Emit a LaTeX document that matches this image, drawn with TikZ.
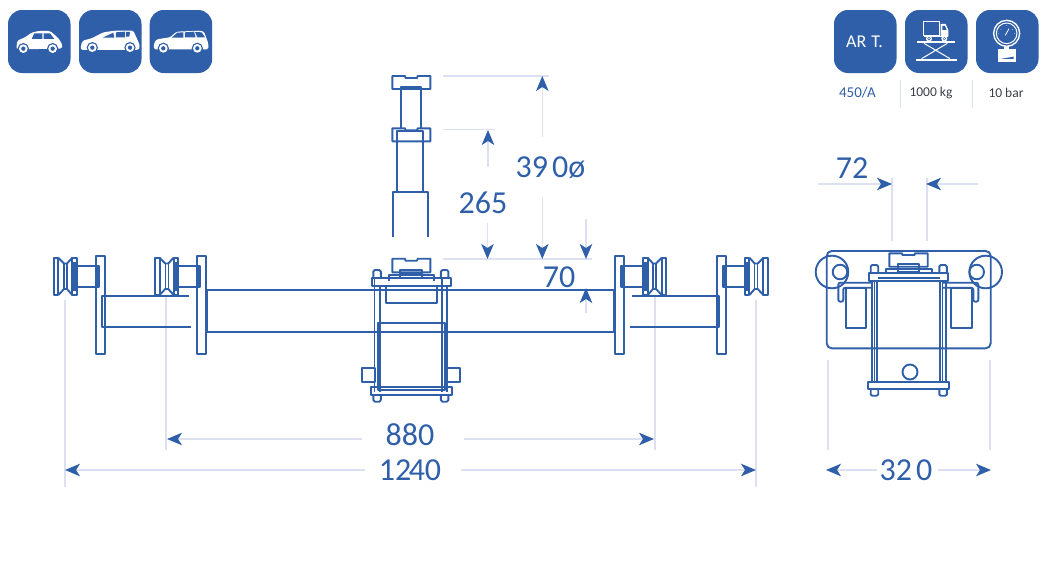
\documentclass[tikz,border=0pt]{standalone}
\usepackage{fontspec}
\setmainfont{Carlito}
\usetikzlibrary{arrows.meta}
\definecolor{steel}{HTML}{2F5FA9}
\definecolor{pale}{HTML}{DDE0F1}
\definecolor{ink}{HTML}{3A3F45}
\tikzset{
	part/.style={draw=steel,line width=1.9pt,line join=round},
	thin part/.style={draw=steel,line width=1.2pt},
	badge/.style={fill=steel,rounded corners=14pt},
	carbody/.style={fill=white,rounded corners=1.5pt},
	pane/.style={fill=steel},
	guide/.style={draw=pale,line width=1.4pt},
	dimarrow/.style={draw=pale,line width=1.4pt,-{Stealth[length=15pt,width=12.5pt,inset=4pt,color=steel]}},
	dimtext/.style={text=steel,font=\fontsize{32}{32}\selectfont,inner sep=0pt},
	smalltext/.style={font=\fontsize{13.5}{14}\selectfont,inner sep=0pt}
}
\begin{document}
\begin{tikzpicture}[x=1pt,y=-1pt]
	\useasboundingbox (0,0) rectangle (1055,562);
	% badges
	\foreach \x in {8,79,149.7,834,905,976}
		\fill[badge] (\x,10) rectangle ++(62.5,63);
	% cars
	\begin{scope}[x=.3333pt,y=-.3333pt]
		\fill[carbody] (50,148) -- (50,135) -- (52,122) -- (75,112) -- (95,98) -- (115,93) -- (150,93) -- (165,105) -- (178,118) -- (187,135) -- (185,146) -- cycle;
		\fill[pane] (103,100) -- (127,100) -- (127,117) -- (95,117) -- cycle (131,100) -- (150,100) -- (163,117) -- (131,117) -- cycle;
		\fill[carbody] (243,150) -- (243,135) -- (248,122) -- (275,115) -- (310,97) -- (345,92) -- (400,92) -- (415,125) -- (420,140) -- (415,150) -- cycle;
		\fill[pane] (308,113) -- (340,98) -- (343,113) -- cycle (348,97) -- (375,95) -- (375,112) -- (348,112) -- cycle (378,96) -- (390,96) -- (388,110) -- (378,110) -- cycle;
		\fill[carbody] (462,148) -- (462,130) -- (470,118) -- (510,112) -- (530,95) -- (600,92) -- (612,95) -- (625,130) -- (625,148) -- cycle;
		\fill[pane] (515,113) -- (532,98) -- (550,97) -- (550,113) -- cycle (555,97) -- (582,95) -- (587,112) -- (555,112) -- cycle (585,96) -- (605,97) -- (615,112) -- (592,112) -- cycle;
		\foreach \x/\y in {70/146,158/146,277/143,390/143,490/145,592/145}{
			\fill[steel] (\x,\y) circle (17);
			\fill[white] (\x,\y) circle (13);
			\fill[steel] (\x,\y) circle (6.5);
		}
	\end{scope}
	% lift badge
	\begin{scope}[shift={(825,0)},x=.3333pt,y=-.3333pt]
		\draw[white,line width=1pt] (295,65) rectangle (343,108);
		\fill[white] (347,72) -- (362,72) -- (370,90) -- (370,110) -- (347,110) -- cycle;
		\fill[steel] (352,78) -- (360,78) -- (365,90) -- (352,90) -- cycle;
		\fill[white] (296,107) rectangle (370,112);
		\foreach \x in {312,358}{
			\fill[white] (\x,116) circle (9);
			\fill[steel] (\x,116) circle (5);
			\fill[white] (\x,116) circle (2.5);
		}
		\fill[white] (275,123) rectangle (390,130);
		\fill[white] (272,176) rectangle (395,184);
		\draw[white,line width=1pt] (297,130) -- (375,176) (367,130) -- (290,176);
		\draw[white,line width=1.4pt] (545,100) circle (39);
		\draw[white,line width=1pt] (545,100) circle (31);
		\draw[white,line width=.8pt] (541,106) -- (552,86);
		\fill[white] (537,139) rectangle (553,147);
		\fill[white] (520,147) rectangle (572,185);
		\fill[steel] (526,177) -- (566,170) -- (566,177) -- cycle;
		\fill[white] (545,100) ++(-35:21) circle (1.2) (545,100) ++(-90:24) circle (1.2) (545,100) ++(-145:21) circle (1.2) (545,100) ++(0:24) circle (1.2) (545,100) ++(180:24) circle (1.2);
	\end{scope}
	\node[text=white,font=\fontsize{18}{18}\selectfont,inner sep=0pt] (art) at (864.5,42) {AR\hspace{1pt} T.};
	\node[smalltext,text=steel,font=\fontsize{15}{15}\selectfont] (model) at (857.5,93) {450/A};
	\node[smalltext,text=ink] (load) at (931,93) {1000 kg};
	\node[smalltext,text=ink] (press) at (1006,93) {10 bar};
	\foreach \x in {900,972.3}
		\draw[guide,line width=1pt] (\x,80) -- (\x,108);
	% guide lines
	\foreach \x/\a/\b in {65/300/487,166/295/450,655/295/450,756/300/487,828/360/450,990/360/450,892/178/241,927/178/241}
		\draw[guide] (\x,\a) -- (\x,\b);
	\foreach \y/\b in {76/549,129.5/495,259/592}
		\draw[guide] (443,\y) -- (\b,\y);
	% roller units
	\foreach \x/\s in {54/1,155.3/1,666/-1,767.7/-1}{
		\begin{scope}[shift={(\x,0)},xscale=\s]
			\draw[part] (42,255.7) rectangle (50.7,354.3);
			\draw[part] (22.7,265.7) rectangle (44.7,286.7);
			\fill[steel] (18.5,262) rectangle (22.7,291);
			\fill[steel] (42.5,265.7) rectangle (44.7,286.7);
			\draw[part] (0,257.7) rectangle (4.3,295);
			\draw[part] (18.3,257.7) rectangle (22.7,295);
			\draw[part] (4.3,257.7) -- (10,263.5) -- (13,263.5) -- (18.3,257.7);
			\draw[part] (4.3,295) -- (10,289) -- (13,289) -- (18.3,295);
			\draw[thin part] (10,263.5) -- (10,289) (13,263.5) -- (13,289);
		\end{scope}
	}
	% arms
	\draw[part] (189,295.7) -- (102,295.7) -- (102,326.7) -- (191,326.7);
	\draw[thin part] (104.3,295.7) -- (104.3,326.7);
	\draw[part] (632,295.7) -- (719.3,295.7) -- (719.3,326.7) -- (630,326.7);
	\draw[thin part] (717.5,295.7) -- (717.5,326.7);
	% main tube
	\draw[part] (207,290) rectangle (614,332);
	% column
	\foreach \y in {76,128.3}
		\draw[part] (392.3,\y) -- (405,\y) -- (405.5,\y+2) -- (417,\y+2) -- (417.7,\y) -- (430.3,\y) -- (430.3,\y+13) -- (392.3,\y+13) -- cycle;
	\draw[part] (401,128.3) -- (401,86.7) -- (421,86.7) -- (421,128.3);
	\draw[thin part] (401,89) -- (421,89);
	\draw[part] (397.3,131) rectangle (423.3,191.7);
	\draw[part] (393,237.3) -- (393,191.7) -- (428.3,191.7) -- (428.3,237.3);
	% front clamp
	\draw[part] (392.3,258.7) -- (405,258.7) -- (405.5,260.7) -- (417,260.7) -- (417.7,258.7) -- (430.3,258.7) -- (430.3,272.3) -- (392.3,272.3) -- cycle;
	\draw[part] (400.3,270) rectangle (422,277.7);
	\draw[thin part] (400.3,273.8) -- (422,273.8);
	\draw[part] (388.7,281.3) -- (388.7,274.7) -- (433.7,274.7) -- (433.7,281.3);
	\draw[part] (371.7,278.3) rectangle (451,285.7);
	\foreach \x in {373.3,440.9}{
		\draw[part] (\x,278.3) -- (\x,271.5) -- (\x+1.5,270) -- (\x+6,270) -- (\x+7.5,271.5) -- (\x+7.5,278.3);
		\draw[thin part] (\x+1,278.3) -- (\x+1,392);
		\draw[part] (\x+6.5,285.7) -- (\x+6.5,392);
		\draw[part] (\x,395) -- (\x,400) -- (\x+1.5,401.7) -- (\x+6,401.7) -- (\x+7.5,400) -- (\x+7.5,395);
	}
	\draw[part] (385.7,285.7) rectangle (436.7,303.3);
	\draw[part] (378.3,322.7) rectangle (445.3,390);
	\draw[part] (361.7,368) rectangle (375,382);
	\draw[part] (446,368) rectangle (460,382);
	\draw[part] (370.7,386.7) rectangle (451.7,395);
	% side view
	\draw[part,rounded corners=5pt] (826.7,251) rectangle (990.7,348.3);
	\foreach \x/\u in {832/840,985.7/976.7}{
		\draw[part] (\x,272) circle (16.3);
		\draw[part] (\u,272) circle (7.3);
	}
	\draw[part] (889.3,253.3) -- (902,253.3) -- (902.5,255) -- (914.5,255) -- (915,253.3) -- (927.7,253.3) -- (927.7,266.7) -- (889.3,266.7) -- cycle;
	\draw[part] (897.7,264.3) rectangle (919.3,272.3);
	\draw[thin part] (897.7,268.3) -- (919.3,268.3);
	\draw[part] (886,273.3) -- (886,269.3) -- (931.7,269.3) -- (931.7,273.3);
	\draw[part] (869.3,273.3) rectangle (948.3,280.7);
	\draw[part,rounded corners=2pt] (873,282.7) -- (838.3,282.7) -- (838.3,301.7) -- (843.3,301.7) -- (843.3,287.7) -- (873,287.7);
	\draw[part,rounded corners=2pt] (943,282.7) -- (978.3,282.7) -- (978.3,301.7) -- (973.3,301.7) -- (973.3,287.7) -- (943,287.7);
	\draw[part] (845.7,288.3) rectangle (865.7,327.7);
	\draw[part] (951.3,288.3) rectangle (971.7,327.7);
	\foreach \x in {870.7,939.3}{
		\draw[part] (\x,273.3) -- (\x,266.5) -- (\x+1.5,265) -- (\x+6,265) -- (\x+7.5,266.5) -- (\x+7.5,273.3);
		\draw[part] (\x+1,280.7) -- (\x+1,381.7);
		\draw[thin part] (\x+3.5,280.7) -- (\x+3.5,381.7);
		\draw[part] (\x+6.5,280.7) -- (\x+6.5,381.7);
		\draw[part] (\x,389) -- (\x,394.5) -- (\x+1.5,395.7) -- (\x+6,395.7) -- (\x+7.5,394.5) -- (\x+7.5,389);
	}
	\draw[part] (878,277.7) -- (940,277.7);
	\draw[part] (910,372) circle (7.5);
	\draw[part] (867.7,381.7) rectangle (949.3,389);
	% dimensions
	\node[dimtext] (h390) at (550.5,168) {39\hspace{4pt}0ø};
	\node[dimtext] (h265) at (483,203) {265};
	\node[dimtext] (h70) at (559,277) {70};
	\node[dimtext] (w880) at (410,435) {880};
	\node[dimtext] (w1240) at (410,470) {12\kern-2.5pt40};
	\node[dimtext] (w320) at (906,470) {32\hspace{4pt}0};
	\node[dimtext] (w72) at (852,168) {72};
	\coordinate (a1) at (542.3,136.7);
	\coordinate (b1) at (542.3,76);
	\coordinate (a2) at (542.3,198);
	\coordinate (b2) at (542.3,259);
	\coordinate (a3) at (488,166.7);
	\coordinate (b3) at (488,130);
	\coordinate (a4) at (487.5,223);
	\coordinate (b4) at (487.5,259);
	\coordinate (a5) at (586,219);
	\coordinate (b5) at (586,259);
	\coordinate (a6) at (586,313);
	\coordinate (b6) at (586,288);
	\coordinate (a7) at (362,439);
	\coordinate (b7) at (167,439);
	\coordinate (a8) at (464,439);
	\coordinate (b8) at (654,439);
	\coordinate (a9) at (365,470);
	\coordinate (b9) at (65,470);
	\coordinate (a10) at (461,470);
	\coordinate (b10) at (756,470);
	\coordinate (a11) at (877,470);
	\coordinate (b11) at (826,470);
	\coordinate (a12) at (938,470);
	\coordinate (b12) at (991,470);
	\coordinate (a13) at (818,184);
	\coordinate (b13) at (892,184);
	\coordinate (a14) at (978,184);
	\coordinate (b14) at (926,184);
	\foreach \i in {1,...,14}
		\draw[dimarrow] (a\i) -- (b\i);
\end{tikzpicture}
\end{document}
